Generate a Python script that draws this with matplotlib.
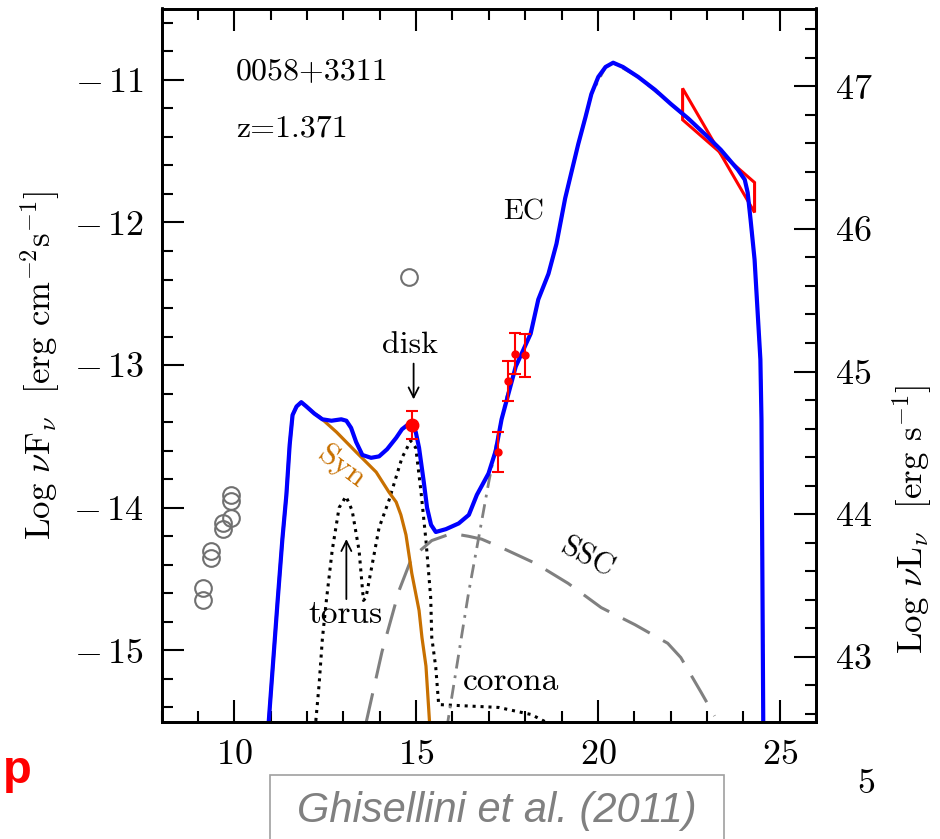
import numpy as np
import matplotlib
matplotlib.use("Agg")
import matplotlib.pyplot as plt
from matplotlib.ticker import MultipleLocator, FuncFormatter
from matplotlib.patches import Rectangle, Polygon

plt.rcParams['font.family'] = 'serif'
plt.rcParams['font.serif'] = ['cmr10', 'DejaVu Serif']
plt.rcParams['mathtext.fontset'] = 'cm'
plt.rcParams['axes.formatter.use_mathtext'] = True

# total model (blue)
tot_x = [10.93, 11.19, 11.32, 11.43, 11.52, 11.60, 11.71, 11.84, 11.98, 12.20, 12.42,
         12.67, 12.94, 13.08, 13.21, 13.35, 13.52, 13.76, 13.98, 14.20, 14.45, 14.61,
         14.86, 14.99, 15.08, 15.21, 15.30, 15.41, 15.54, 15.82, 16.17, 16.45, 16.67,
         16.99, 17.19, 17.35, 17.74, 18.15, 18.36, 18.64, 18.86, 19.10, 19.27, 19.46,
         19.66, 19.82, 20.01, 20.21, 20.42, 20.69, 21.11, 21.57, 22.01, 22.48, 22.94,
         23.38, 23.85, 24.04, 24.12, 24.20, 24.31, 24.39, 24.47, 24.50, 24.55]
tot_y = [-15.55, -14.65, -14.22, -13.91, -13.56, -13.35, -13.29, -13.26, -13.29, -13.34,
         -13.38, -13.39, -13.38, -13.39, -13.44, -13.54, -13.63, -13.65, -13.64, -13.59,
         -13.51, -13.45, -13.40, -13.47, -13.58, -13.82, -14.00, -14.12, -14.17, -14.15,
         -14.11, -14.05, -13.91, -13.76, -13.60, -13.38, -13.01, -12.78, -12.54, -12.36,
         -12.15, -11.83, -11.65, -11.45, -11.26, -11.10, -10.98, -10.91, -10.88, -10.91,
         -10.98, -11.07, -11.17, -11.27, -11.38, -11.49, -11.63, -11.70, -11.79, -11.98,
         -12.26, -12.61, -12.96, -13.38, -15.55]

# synchrotron
syn_x = [10.93, 11.19, 11.32, 11.43, 11.52, 11.60, 11.71, 11.84, 11.98, 12.20, 12.33,
         12.81, 13.35, 13.90, 14.25, 14.45, 14.58, 14.72, 14.88, 15.08, 15.16, 15.27, 15.38]
syn_y = [-15.55, -14.65, -14.22, -13.91, -13.56, -13.35, -13.29, -13.26, -13.29, -13.34,
         -13.36, -13.47, -13.61, -13.75, -13.89, -13.96, -14.05, -14.19, -14.46, -14.72,
         -14.91, -15.11, -15.55]

# torus + disk + corona (dotted)
thr_x = [12.22, 12.33, 12.42, 12.53, 12.69, 12.88, 13.07, 13.24, 13.43, 13.55, 13.62,
         13.98, 14.25, 14.61, 14.85, 14.99, 15.13, 15.27, 15.40, 15.43, 15.54, 15.62,
         16.44, 17.27, 17.81, 18.17, 18.55]
thr_y = [-15.55, -15.24, -14.92, -14.65, -14.30, -14.00, -13.92, -14.02, -14.30, -14.65,
         -14.63, -14.14, -13.95, -13.65, -13.53, -13.58, -13.88, -14.23, -14.63, -14.91,
         -15.12, -15.38, -15.39, -15.40, -15.43, -15.45, -15.50]

# SSC (dashed)
ssc_x = [13.62, 14.06, 14.53, 14.88, 15.43, 15.98, 16.44, 16.80, 17.35, 18.28, 19.18,
         20.09, 21.02, 21.92, 22.28, 22.83, 23.21]
ssc_y = [-15.51, -15.01, -14.58, -14.35, -14.23, -14.18, -14.20, -14.22, -14.28, -14.39,
         -14.53, -14.70, -14.82, -14.95, -15.05, -15.29, -15.46]

# EC (dash-dot)
ec_x = [15.84, 16.44, 16.72, 16.99, 17.21, 17.46, 17.74, 18.15, 18.36, 18.64, 18.86,
        19.10, 19.46, 19.82, 20.21, 20.42, 21.11, 22.01, 22.94, 23.85, 24.04, 24.12,
        24.20, 24.31, 24.39, 24.47, 24.50, 24.55]
ec_y = [-15.55, -14.60, -14.21, -13.83, -13.55, -13.25, -13.01, -12.78, -12.54, -12.36,
        -12.15, -11.83, -11.45, -11.10, -10.91, -10.88, -10.98, -11.17, -11.38, -11.63,
        -11.70, -11.79, -11.98, -12.26, -12.61, -12.96, -13.38, -15.55]

# archival data (open grey)
arc_x = [9.13, 9.13, 9.35, 9.35, 9.68, 9.68, 9.92, 9.92, 9.92, 14.80]
arc_y = [-14.56, -14.65, -14.30, -14.35, -14.11, -14.15, -13.91, -13.95, -14.07, -12.38]

# simultaneous data (red)
opt_x, opt_y, opt_e = [14.88], [-13.42], [0.095]
xr_x = [17.24, 17.54, 17.73, 18.00]
xr_y = [-13.61, -13.11, -12.92, -12.93]
xr_e = [0.14, 0.14, 0.145, 0.15]

# Fermi bow-tie
bt_x = [22.33, 24.31, 24.31, 22.33]
bt_y = [-11.06, -11.93, -11.72, -11.28]

W, H = 940, 839
fig = plt.figure(figsize=(W / 100, H / 100), dpi=100)
ax = fig.add_axes([161.7 / W, 1 - 721.7 / H, (816 - 161.7) / W, (721.7 - 8.5) / H])

gray = '#808080'
ax.plot(thr_x, thr_y, color='black', lw=2.2, linestyle=(0, (1, 1.6)))
ax.plot(ssc_x, ssc_y, color=gray, lw=2.2, linestyle=(0, (10, 5)))
ax.plot(ec_x, ec_y, color=gray, lw=2.0, linestyle=(0, (5, 2.5, 1, 2.5)))
ax.plot(syn_x, syn_y, color='#c87000', lw=2.3)
ax.plot(tot_x, tot_y, color='#0000ff', lw=3.0, solid_joinstyle='round')

ax.plot(arc_x, arc_y, 'o', ms=12, mfc='none', mec='#707070', mew=1.5)
ax.errorbar(opt_x, opt_y, yerr=opt_e, fmt='o', color='red', ms=9, capsize=4, elinewidth=1.5, capthick=1.5)
ax.errorbar(xr_x, xr_y, yerr=xr_e, fmt='o', color='red', ms=5, capsize=4, elinewidth=1.5, capthick=1.5)
ax.add_patch(Polygon(np.column_stack([bt_x, bt_y]), closed=True, fill=False, edgecolor='red', lw=2.2))


def neg_fmt(v, pos):
    if v < 0:
        return r'$-\,%d$' % abs(round(v))
    return r'$%d$' % round(v)


ax.set_xlim(8, 26)
ax.set_ylim(-15.5, -10.5)
ax.xaxis.set_major_locator(MultipleLocator(5))
ax.xaxis.set_minor_locator(MultipleLocator(1))
ax.yaxis.set_major_locator(MultipleLocator(1))
ax.yaxis.set_minor_locator(MultipleLocator(0.2))
ax.yaxis.set_major_formatter(FuncFormatter(neg_fmt))
ax.tick_params(which='both', direction='in', top=True, right=False, width=1.5, labelsize=26, pad=13)
ax.tick_params(which='major', length=16)
ax.tick_params(which='minor', length=8)
for s in ax.spines.values():
    s.set_linewidth(2)

ax2 = ax.twinx()
ax2.set_ylim(-15.5 + 58.045, -10.5 + 58.045)
ax2.yaxis.set_major_locator(MultipleLocator(1))
ax2.yaxis.set_minor_locator(MultipleLocator(0.2))
ax2.tick_params(which='both', direction='in', width=1.5, labelsize=26, pad=14)
ax2.tick_params(which='major', length=16)
ax2.tick_params(which='minor', length=8)
for s in ax2.spines.values():
    s.set_linewidth(2)

ax.text(-0.186, 0.50, r'Log $\nu$F$_\nu$  [erg cm$^{-2}$s$^{-1}$]', transform=ax.transAxes,
        rotation=90, ha='center', va='center', fontsize=25)
ax.text(1.147, 0.283, r'Log $\nu$L$_\nu$  [erg s$^{-1}$]', transform=ax.transAxes,
        rotation=90, ha='center', va='center', fontsize=25)

# annotations
ax.text(10.05, -10.94, '0058+3311', fontsize=23, ha='left', va='center')
ax.text(10.05, -11.34, 'z=1.371', fontsize=23, ha='left', va='center')
ax.text(14.82, -12.86, 'disk', fontsize=23, ha='center', va='center')
ax.annotate('', xy=(14.93, -13.26), xytext=(14.93, -12.97),
            arrowprops=dict(arrowstyle='->', lw=1.3, color='black', mutation_scale=18))
ax.text(13.06, -14.75, 'torus', fontsize=24, ha='center', va='center')
ax.annotate('', xy=(13.08, -14.2), xytext=(13.08, -14.66),
            arrowprops=dict(arrowstyle='->', lw=1.3, color='black', mutation_scale=18))
ax.text(17.95, -11.93, 'EC', fontsize=21, ha='center', va='center')
ax.text(12.95, -13.71, 'Syn', fontsize=23, ha='center', va='center', rotation=-37, color='#c87000')
ax.text(19.70, -14.35, 'SSC', fontsize=22, ha='center', va='center', rotation=-28)
ax.text(17.62, -15.22, 'corona', fontsize=24, ha='center', va='center')

# page decorations
fig.text(3 / W, 1 - 783 / H, 'p', color='red', fontsize=34, fontweight='bold',
         family='Liberation Sans', ha='left', va='baseline')
fig.text(866 / W, 1 - 784 / H, '5', fontsize=26, ha='center', va='center')
fig.patches.append(Rectangle((270 / W, -0.05), 454 / W, (839 - 775) / H + 0.05,
                             transform=fig.transFigure, fill=False, edgecolor='#a0a0a0', lw=1.2))
fig.text(497 / W, 1 - 822 / H, 'Ghisellini et al. (2011)', color=gray, fontsize=30,
         style='italic', family='Liberation Sans', ha='center', va='baseline')

fig.savefig('out.png', dpi=100)
